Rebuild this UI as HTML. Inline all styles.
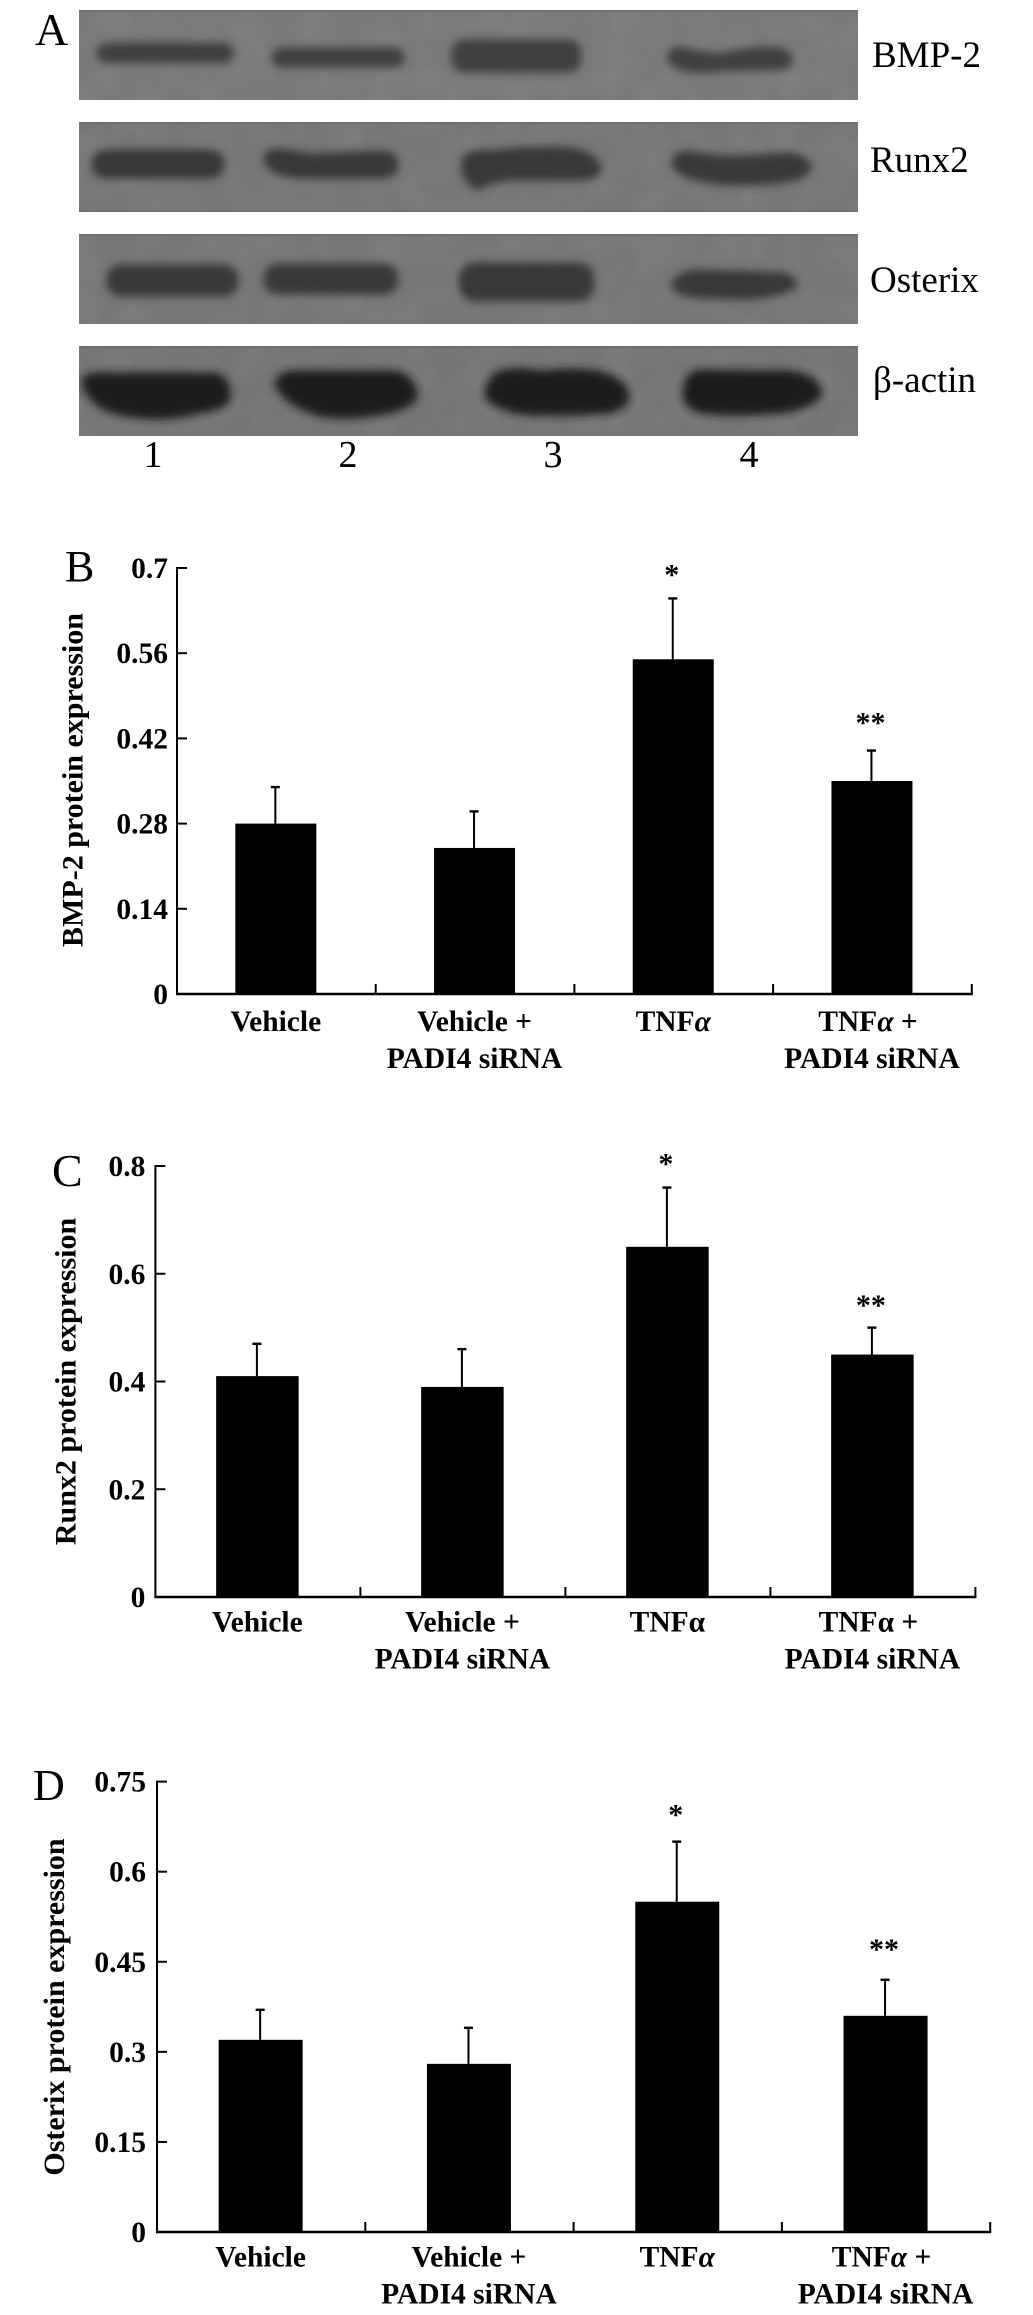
<!DOCTYPE html>
<html lang="en">
<head>
<meta charset="utf-8">
<title>PADI4 siRNA western blot and protein expression charts</title>
<style>
html,body{margin:0;padding:0;background:#fff;}
body{width:1033px;height:2315px;overflow:hidden;}
svg{display:block;}
text{font-family:"Liberation Serif","DejaVu Serif",serif;fill:#000;}
.blot-label{font-size:37px;}
.lane-label{font-size:38px;text-anchor:middle;}
.panel-letter{font-size:44px;}
</style>
</head>
<body>
<svg id="figure" xmlns="http://www.w3.org/2000/svg" width="1033" height="2315" viewBox="0 0 1033 2315">
  <defs>
    <filter id="blur-band" x="-20%" y="-80%" width="140%" height="260%"><feGaussianBlur stdDeviation="4.2"/></filter>
    <filter id="mottle" x="0" y="0" width="100%" height="100%">
      <feTurbulence type="fractalNoise" baseFrequency="0.03" numOctaves="2" seed="4"/>
      <feColorMatrix type="matrix" values="0 0 0 0 0.5  0 0 0 0 0.5  0 0 0 0 0.5  1.2 0 0 0 -0.42"/>
    </filter>
    <clipPath id="clip-s1"><rect x="79" y="10" width="779" height="90"/></clipPath>
    <clipPath id="clip-s2"><rect x="79" y="122" width="779" height="90"/></clipPath>
    <clipPath id="clip-s3"><rect x="79" y="234" width="779" height="90"/></clipPath>
    <clipPath id="clip-s4"><rect x="79" y="346" width="779" height="90"/></clipPath>
  </defs>

  <g id="panel-a">
    <text class="panel-letter" x="35" y="45" style="font-size:46px">A</text>

    <g clip-path="url(#clip-s1)">
      <rect x="79" y="10" width="779" height="90" fill="#7a7a7a"/>
      <rect x="79" y="10" width="779" height="90" filter="url(#mottle)" opacity="0.15"/>
      <rect x="79" y="10" width="779" height="1.5" fill="#6c6c6c"/>
      <g filter="url(#blur-band)" fill="#414141" stroke="#414141" stroke-width="5" stroke-linejoin="round">
        <rect x="99" y="45" width="132" height="16" rx="8"/>
        <rect x="274" y="50" width="128" height="15" rx="7"/>
        <rect x="454" y="42" width="125" height="28" rx="10"/>
        <path d="M669 56Q672 47 686 50Q700 55 722 55Q745 50 770 49Q790 50 791 60Q790 69 770 68L720 69Q700 72 685 69Q670 65 669 56Z"/>
      </g>
    </g>
    <g clip-path="url(#clip-s2)">
      <rect x="79" y="122" width="779" height="90" fill="#777"/>
      <rect x="79" y="122" width="779" height="90" filter="url(#mottle)" opacity="0.15"/>
      <rect x="79" y="122" width="779" height="1.5" fill="#6c6c6c"/>
      <rect x="79" y="210.5" width="779" height="1.5" fill="#6c6c6c"/>
      <g filter="url(#blur-band)" fill="#383838" stroke="#383838" stroke-width="5" stroke-linejoin="round">
        <rect x="94" y="152" width="128" height="24" rx="11"/>
        <path d="M266 160Q266 150 280 151Q295 153 310 156L380 153Q396 153 396 165Q396 176 380 176L300 176Q270 175 266 160Z"/>
        <path d="M464 160Q470 150 490 153Q530 147 570 150Q598 155 599 170Q596 178 580 178L510 178Q490 180 480 187Q468 186 464 170Z"/>
        <path d="M674 165Q675 152 690 153Q710 158 735 158L790 155Q809 158 809 168Q805 178 785 180Q750 185 720 182Q680 178 674 165Z"/>
      </g>
    </g>
    <g clip-path="url(#clip-s3)">
      <rect x="79" y="234" width="779" height="90" fill="#777"/>
      <rect x="79" y="234" width="779" height="90" filter="url(#mottle)" opacity="0.15"/>
      <rect x="79" y="234" width="779" height="1.5" fill="#6c6c6c"/>
      <g filter="url(#blur-band)" fill="#383838" stroke="#383838" stroke-width="5" stroke-linejoin="round">
        <rect x="109" y="267" width="127" height="27" rx="12"/>
        <rect x="266" y="266" width="130" height="26" rx="12"/>
        <rect x="461" y="265" width="131" height="34" rx="14"/>
        <path d="M673 285Q678 273 700 272Q750 273 785 275Q796 280 794 286Q780 296 745 297Q700 297 685 294Q675 290 673 285Z"/>
      </g>
    </g>
    <g clip-path="url(#clip-s4)">
      <rect x="79" y="346" width="779" height="90" fill="#757575"/>
      <rect x="79" y="346" width="779" height="90" filter="url(#mottle)" opacity="0.15"/>
      <rect x="79" y="346" width="779" height="1.5" fill="#6c6c6c"/>
      <g filter="url(#blur-band)" fill="#1e1e1e" stroke="#1e1e1e" stroke-width="7" stroke-linejoin="round">
        <path d="M85 380Q88 376 100 376L215 376Q228 380 227 398Q226 406 200 410Q170 418 140 415Q110 412 98 402Q86 392 85 380Z"/>
        <path d="M278 385Q280 374 295 374L395 374Q414 380 414 396Q412 405 385 411Q350 418 320 413Q290 405 278 385Z"/>
        <path d="M488 395Q490 375 505 373Q520 370 540 374L570 372Q620 372 626 395Q626 405 610 410Q570 413 530 412Q495 408 488 395Z"/>
        <path d="M686 395Q686 375 700 373L790 374Q815 378 819 392Q815 405 780 410Q730 414 700 410Q687 405 686 395Z"/>
      </g>
    </g>

    <text class="blot-label" x="872" y="67">BMP-2</text>
    <text class="blot-label" x="870" y="172">Runx2</text>
    <text class="blot-label" x="870" y="292">Osterix</text>
    <text class="blot-label" x="873" y="392">β-actin</text>

    <text class="lane-label" x="153" y="467">1</text>
    <text class="lane-label" x="348" y="467">2</text>
    <text class="lane-label" x="553" y="467">3</text>
    <text class="lane-label" x="749" y="467">4</text>
  </g>

  <text class="panel-letter" x="65" y="581">B</text>
  <text class="panel-letter" x="52" y="1186" style="font-size:46px">C</text>
  <text class="panel-letter" x="33" y="1800">D</text>
</svg>

<script>
var categories = [["Vehicle"], ["Vehicle +", "PADI4 siRNA"], ["TNFα"], ["TNFα +", "PADI4 siRNA"]];
var significance = ["", "", "*", "**"];

var bmp2Values = [0.28, 0.24, 0.55, 0.35];
var bmp2ErrorTops = [0.34, 0.30, 0.65, 0.40];
var bmp2Ticks = [0, 0.14, 0.28, 0.42, 0.56, 0.7];

var runx2Values = [0.41, 0.39, 0.65, 0.45];
var runx2ErrorTops = [0.47, 0.46, 0.76, 0.50];
var runx2Ticks = [0, 0.2, 0.4, 0.6, 0.8];

var osterixValues = [0.32, 0.28, 0.55, 0.36];
var osterixErrorTops = [0.37, 0.34, 0.65, 0.42];
var osterixTicks = [0, 0.15, 0.3, 0.45, 0.6, 0.75];

var SVG_NS = "http://www.w3.org/2000/svg";
var figure = document.getElementById("figure");

function make(parent, tag, attrs) {
  var el = document.createElementNS(SVG_NS, tag);
  for (var k in attrs) { el.setAttribute(k, attrs[k]); }
  parent.appendChild(el);
  return el;
}

function setLabelText(el, str, italicAlpha) {
  var parts = str.split("α");
  el.appendChild(document.createTextNode(parts[0]));
  if (parts.length > 1) {
    var alpha = make(el, "tspan", { "font-style": italicAlpha ? "italic" : "normal" });
    alpha.textContent = "α";
    el.appendChild(document.createTextNode(parts[1]));
  }
}

function drawChart(key, title, values, errorTops, ticks, layout) {
  var group = make(figure, "g", {});
  
  

  var maxTick = ticks[ticks.length - 1];
  function yScale(v) { return layout.y0 - (v / maxTick) * (layout.y0 - layout.yTop); }
  function xCenter(i) { return layout.x0 + (i + 0.5) * layout.band - 0.5; }

  values.forEach(function (v, i) {
    var barTop = yScale(v);
    var bar = make(group, "rect", { x: xCenter(i) - layout.barWidth / 2, y: barTop, width: layout.barWidth, height: layout.y0 - barTop, fill: "#000" });
    
    

    var errTop = yScale(errorTops[i]);
    var stem = make(group, "line", { x1: xCenter(i) - 0.5, x2: xCenter(i) - 0.5, y1: barTop, y2: errTop, stroke: "#000", "stroke-width": 2 });
    
    

    var cap = make(group, "line", { x1: xCenter(i) - 5, x2: xCenter(i) + 4, y1: errTop, y2: errTop, stroke: "#000", "stroke-width": 2.4 });
    
    

    if (significance[i]) {
      var gap = significance[i].length === 1 ? layout.starGap : layout.doubleStarGap;
      var star = make(group, "text", { x: xCenter(i) - 1.5, y: errTop - gap, "text-anchor": "middle", "font-size": 30, "font-weight": "bold" });
      star.textContent = significance[i];
      
      
    }
  });

  var yAxis = make(group, "line", { x1: layout.x0, x2: layout.x0, y1: layout.yTop - 1, y2: layout.y0 + 1, stroke: "#000", "stroke-width": 2 });
  
  

  var xAxis = make(group, "line", { x1: layout.x0 - 1, x2: layout.x0 + categories.length * layout.band + 1, y1: layout.y0, y2: layout.y0, stroke: "#000", "stroke-width": 2.4 });
  
  

  ticks.forEach(function (t, i) {
    var y = yScale(t);
    if (i > 0) {
      var mark = make(group, "line", { x1: layout.x0, x2: layout.x0 + 10, y1: y, y2: y, stroke: "#000", "stroke-width": 2 });
      
      
    }
    var label = make(group, "text", { x: layout.x0 - layout.tickGap, y: y + 10, "text-anchor": "end", "font-size": 29.5, "font-weight": "bold" });
    label.textContent = String(t);
    
    
  });

  categories.forEach(function (lines, i) {
    var tx = layout.x0 + (i + 1) * layout.band;
    var xTick = make(group, "line", { x1: tx, x2: tx, y1: layout.y0, y2: layout.y0 - 10, stroke: "#000", "stroke-width": 2 });
    
    

    lines.forEach(function (line, j) {
      var shift = line === "TNFα +" ? -4 : 0;
      var cat = make(group, "text", { x: xCenter(i) + shift, y: layout.y0 + layout.labelGap + j * 37, "text-anchor": "middle", "font-size": 29.5, "font-weight": "bold" });
      setLabelText(cat, line, layout.italicAlpha);
      
      
    });
  });

  var yTitle = make(group, "text", { transform: "translate(" + layout.titleX + "," + layout.titleY + ") rotate(-90)", "text-anchor": "middle", "font-size": 30, "font-weight": "bold" });
  yTitle.textContent = title;
  
  
}

drawChart("bmp2", "BMP-2 protein expression", bmp2Values, bmp2ErrorTops, bmp2Ticks,
  { x0: 177, band: 198.7, barWidth: 81, y0: 994, yTop: 568, tickGap: 9, starGap: 14, doubleStarGap: 18, labelGap: 37, italicAlpha: true, titleX: 82.3, titleY: 780 });
drawChart("runx2", "Runx2 protein expression", runx2Values, runx2ErrorTops, runx2Ticks,
  { x0: 155.4, band: 205, barWidth: 82.5, y0: 1597, yTop: 1166, tickGap: 10, starGap: 14, doubleStarGap: 12.5, labelGap: 34.5, italicAlpha: false, titleX: 75.7, titleY: 1381.5 });
drawChart("osterix", "Osterix protein expression", osterixValues, osterixErrorTops, osterixTicks,
  { x0: 157, band: 208.3, barWidth: 84, y0: 2232, yTop: 1781.6, tickGap: 11, starGap: 17, doubleStarGap: 21, labelGap: 34.5, italicAlpha: true, titleX: 64, titleY: 2007 });
</script>
</body>
</html>
